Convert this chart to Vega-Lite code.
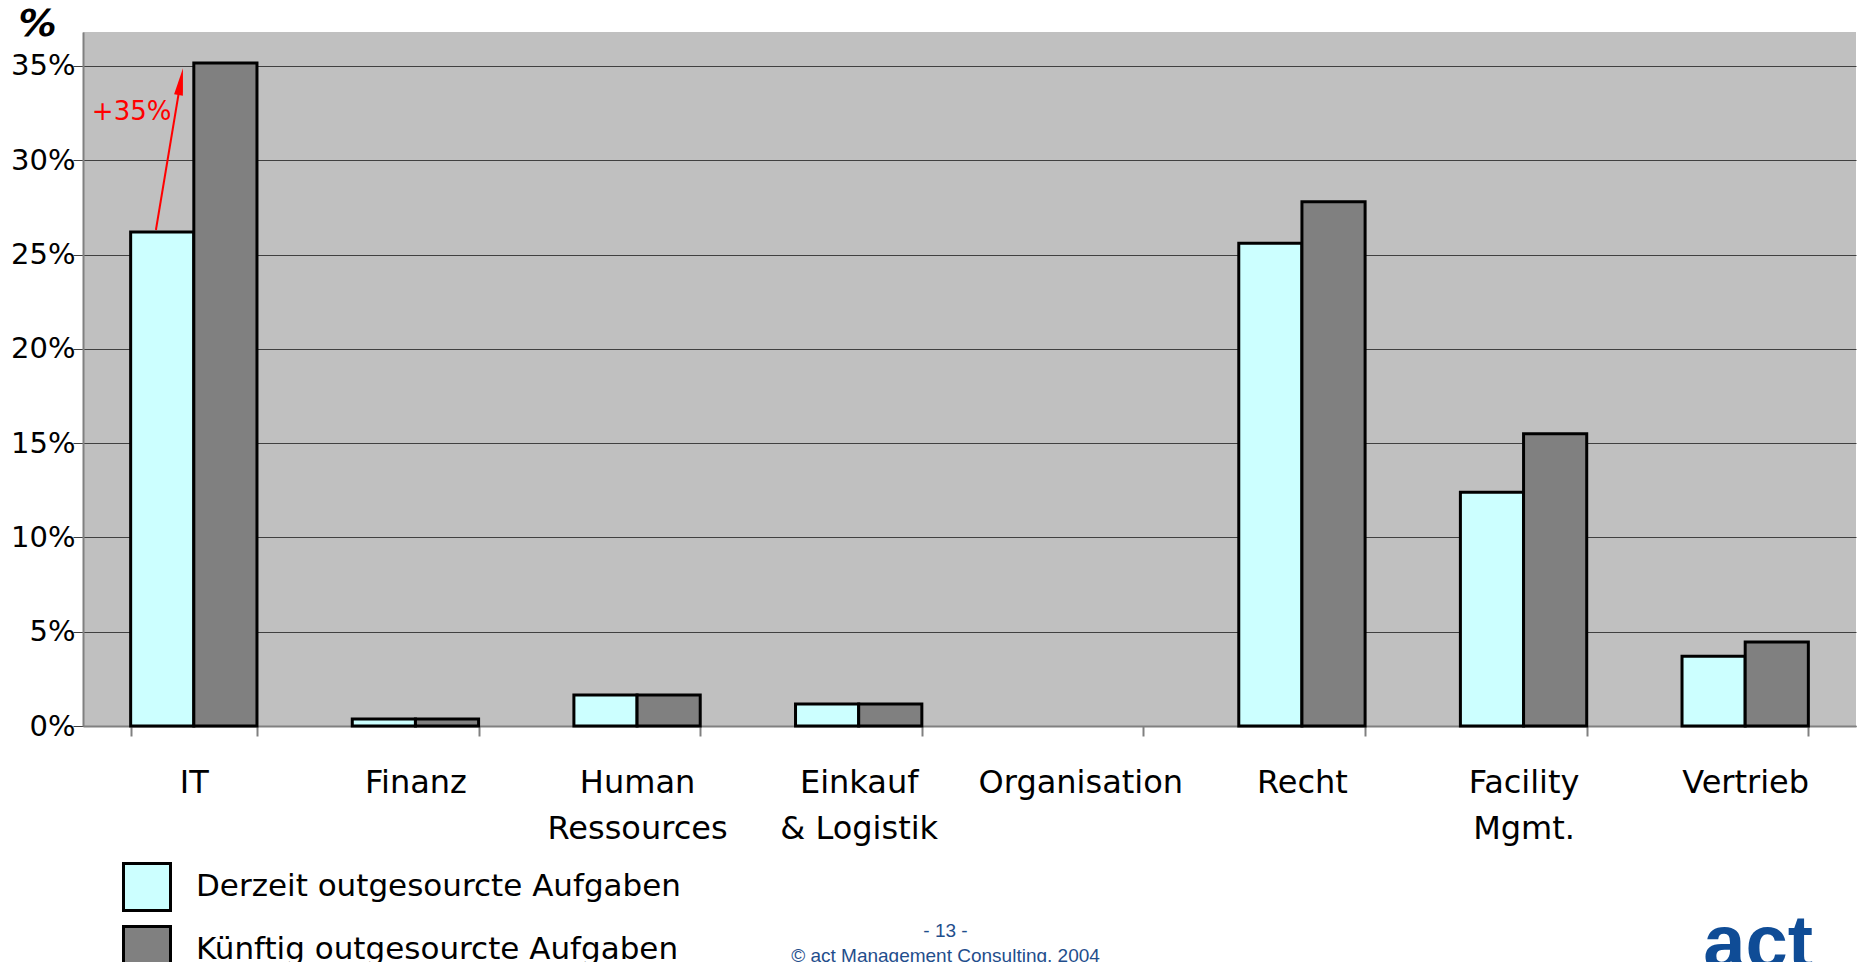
{
  "$schema": "https://vega.github.io/schema/vega-lite/v6.json",
  "width": 1773,
  "height": 694,
  "autosize": {"type": "none"},
  "padding": {"left": 83, "top": 32, "right": 2, "bottom": 236},
  "background": "white",
  "config": {
    "view": {"fill": "#C0C0C0", "stroke": null},
    "font": "DejaVu Sans"
  },
  "title": {
    "text": "act",
    "orient": "bottom",
    "frame": "group",
    "anchor": "end",
    "dx": -43,
    "offset": -72,
    "font": "Liberation Sans",
    "fontSize": 76,
    "fontWeight": "bold",
    "color": "#0F4C96"
  },
  "datasets": {
    "bars": [
      {"Bereich": "IT", "Serie": "Derzeit outgesourcte Aufgaben", "Wert": 26.2},
      {"Bereich": "IT", "Serie": "Künftig outgesourcte Aufgaben", "Wert": 35.15},
      {"Bereich": "Finanz", "Serie": "Derzeit outgesourcte Aufgaben", "Wert": 0.37},
      {"Bereich": "Finanz", "Serie": "Künftig outgesourcte Aufgaben", "Wert": 0.37},
      {"Bereich": "Human Ressources", "Serie": "Derzeit outgesourcte Aufgaben", "Wert": 1.64},
      {"Bereich": "Human Ressources", "Serie": "Künftig outgesourcte Aufgaben", "Wert": 1.64},
      {"Bereich": "Einkauf & Logistik", "Serie": "Derzeit outgesourcte Aufgaben", "Wert": 1.17},
      {"Bereich": "Einkauf & Logistik", "Serie": "Künftig outgesourcte Aufgaben", "Wert": 1.17},
      {"Bereich": "Organisation", "Serie": "Derzeit outgesourcte Aufgaben", "Wert": 0},
      {"Bereich": "Organisation", "Serie": "Künftig outgesourcte Aufgaben", "Wert": 0},
      {"Bereich": "Recht", "Serie": "Derzeit outgesourcte Aufgaben", "Wert": 25.6},
      {"Bereich": "Recht", "Serie": "Künftig outgesourcte Aufgaben", "Wert": 27.8},
      {"Bereich": "Facility Mgmt.", "Serie": "Derzeit outgesourcte Aufgaben", "Wert": 12.4},
      {"Bereich": "Facility Mgmt.", "Serie": "Künftig outgesourcte Aufgaben", "Wert": 15.5},
      {"Bereich": "Vertrieb", "Serie": "Derzeit outgesourcte Aufgaben", "Wert": 3.7},
      {"Bereich": "Vertrieb", "Serie": "Künftig outgesourcte Aufgaben", "Wert": 4.45}
    ],
    "arrow": [{"x": 0.329, "Wert": 26.3, "x2": 0.441, "Wert2": 34.2}],
    "head": [{"x": 0.441, "Wert": 34.17}],
    "note": [{"x": 0.04, "Wert": 32.55, "text": "+35%"}]
  },
  "layer": [
    {
      "data": {"name": "bars"},
      "transform": [{"filter": "datum.Wert > 0"}],
      "mark": {"type": "bar", "stroke": "black", "strokeWidth": 3},
      "encoding": {
        "x": {
          "field": "Bereich",
          "type": "nominal",
          "scale": {
            "domain": ["IT", "Finanz", "Human Ressources", "Einkauf & Logistik", "Organisation", "Recht", "Facility Mgmt.", "Vertrieb"],
            "paddingInner": 0.43,
            "paddingOuter": 0.215
          },
          "axis": {
            "title": ["- 13 -", "© act Management Consulting, 2004"],
            "titleFont": "Liberation Sans",
            "titleFontWeight": "normal",
            "titleFontSize": 19,
            "titleLineHeight": 25,
            "titleColor": "#1F4E8C",
            "titleX": 862,
            "titleY": 210,
            "titleAlign": "center",
            "titleBaseline": "alphabetic",
            "labelAngle": 0,
            "labelFontSize": 32,
            "labelLimit": 0,
            "labelColor": "black",
            "labelPadding": 31,
            "labelLineHeight": 46,
            "labelExpr": "datum.label == 'Einkauf & Logistik' ? ['Einkauf', '& Logistik'] : split(datum.label, ' ')",
            "tickBand": "extent",
            "tickSize": 10,
            "tickColor": "#808080",
            "tickWidth": 2,
            "domainColor": "#808080",
            "domainWidth": 2,
            "grid": false
          }
        },
        "xOffset": {
          "field": "Serie",
          "type": "nominal",
          "scale": {"paddingInner": 0, "paddingOuter": 0}
        },
        "y": {
          "field": "Wert",
          "type": "quantitative",
          "scale": {"domain": [0, 36.8], "nice": false},
          "axis": {
            "title": "%",
            "titleAngle": 0,
            "titleX": -46,
            "titleY": -8,
            "titleAlign": "center",
            "titleBaseline": "middle",
            "titleFontSize": 38,
            "titleFontWeight": "bold",
            "titleFontStyle": "italic",
            "titleColor": "black",
            "values": [0, 5, 10, 15, 20, 25, 30, 35],
            "labelExpr": "datum.value + '%'",
            "labelFontSize": 29,
            "labelColor": "black",
            "labelPadding": -2,
            "labelOffset": 0,
            "tickSize": 10,
            "tickColor": "#404040",
            "domainColor": "#808080",
            "domainWidth": 2,
            "grid": true,
            "gridColor": "#404040",
            "gridWidth": 1
          }
        },
        "color": {
          "field": "Serie",
          "type": "nominal",
          "scale": {
            "domain": ["Derzeit outgesourcte Aufgaben", "Künftig outgesourcte Aufgaben"],
            "range": ["#CCFFFF", "#808080"]
          },
          "legend": {
            "title": null,
            "orient": "none",
            "legendX": 39,
            "legendY": 830,
            "padding": 0,
            "symbolType": "square",
            "symbolSize": 2209,
            "symbolStrokeColor": "black",
            "symbolStrokeWidth": 3,
            "symbolOpacity": 1,
            "labelFontSize": 31,
            "labelColor": "black",
            "labelOffset": 24,
            "rowPadding": 3,
            "labelLimit": 0
          }
        }
      }
    },
    {
      "data": {"name": "arrow"},
      "mark": {"type": "rule", "color": "#FF0000", "strokeWidth": 2},
      "encoding": {
        "x": {"field": "x", "type": "quantitative", "scale": {"domain": [0, 8], "nice": false}, "axis": null},
        "x2": {"field": "x2"},
        "y": {"field": "Wert", "type": "quantitative"},
        "y2": {"field": "Wert2"}
      }
    },
    {
      "data": {"name": "head"},
      "mark": {"type": "point", "shape": "M0,-1L0.33,1L-0.33,1Z", "filled": true, "color": "#FF0000", "size": 729, "angle": 9.5, "opacity": 1, "strokeWidth": 0},
      "encoding": {
        "x": {"field": "x", "type": "quantitative", "scale": {"domain": [0, 8], "nice": false}, "axis": null},
        "y": {"field": "Wert", "type": "quantitative"}
      }
    },
    {
      "data": {"name": "note"},
      "mark": {"type": "text", "color": "#FF0000", "fontSize": 26, "align": "left", "baseline": "middle"},
      "encoding": {
        "x": {"field": "x", "type": "quantitative", "scale": {"domain": [0, 8], "nice": false}, "axis": null},
        "y": {"field": "Wert", "type": "quantitative"},
        "text": {"field": "text"}
      }
    }
  ],
  "resolve": {"scale": {"x": "independent"}, "axis": {"x": "independent"}}
}
